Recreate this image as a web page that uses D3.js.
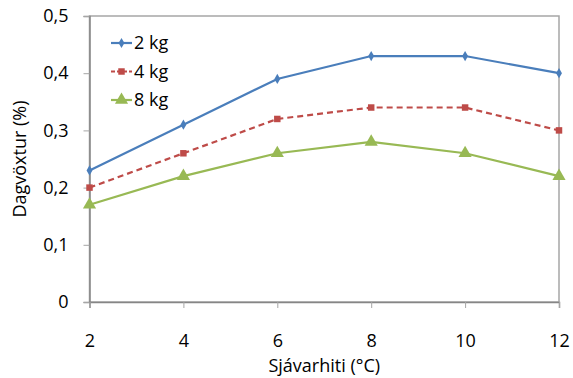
<!DOCTYPE html>
<html>
<head>
<meta charset="utf-8">
<script src="https://cdn.jsdelivr.net/npm/d3@7"></script>
<style>
  html, body { margin: 0; padding: 0; background: #fff; overflow: hidden; }
  svg { display: block; }
  text { font-family: "Open Sans", "Liberation Sans", sans-serif; fill: #000; }
</style>
</head>
<body>
<svg width="573" height="378"></svg>
<script>
const temps = [2, 4, 6, 8, 10, 12];
const kg2 = [0.23, 0.31, 0.39, 0.43, 0.43, 0.40];
const kg4 = [0.20, 0.26, 0.32, 0.34, 0.34, 0.30];
const kg8 = [0.17, 0.22, 0.26, 0.28, 0.26, 0.22];
const seriesNames = ['2 kg', '4 kg', '8 kg'];
const yTicks = [0, 0.1, 0.2, 0.3, 0.4, 0.5];
const xLabel = 'Sjávarhiti (°C)';
const yLabel = 'Dagvöxtur (%)';

const margin = { left: 89.5, right: 14, top: 16, bottom: 76 };
const fontSize = 18;
const svg = d3.select('svg');
const width = +svg.attr('width');
const height = +svg.attr('height');
const innerWidth = width - margin.left - margin.right;
const innerHeight = height - margin.top - margin.bottom;

const g = svg.append('g')
  .attr('transform', `translate(${margin.left},${margin.top})`);

const xScale = d3.scaleLinear().domain([2, 12]).range([0, innerWidth]);
const yScale = d3.scaleLinear().domain([0, 0.5]).range([innerHeight, 0]);

const fmt = d => d === 0 ? '0' : d3.format('.1f')(d).replace('.', ',');

// plot frame
g.append('rect')
  .attr('width', innerWidth)
  .attr('height', innerHeight)
  .attr('fill', 'none')
  .attr('stroke', '#a6a6a6')
  .attr('stroke-width', 1.5);

const yAxis = d3.axisLeft(yScale)
  .tickValues(yTicks)
  .tickFormat(fmt)
  .tickSize(6)
  .tickPadding(15);
const yAxisG = g.append('g').call(yAxis);

const xAxis = d3.axisBottom(xScale)
  .tickValues(temps)
  .tickSize(6)
  .tickPadding(26);
const xAxisG = g.append('g')
  .attr('transform', `translate(0,${innerHeight})`)
  .call(xAxis);

[yAxisG, xAxisG].forEach(a => {
  a.attr('font-size', fontSize).attr('font-family', null);
  a.select('.domain').attr('stroke', '#868686').attr('stroke-width', 1.5);
  a.selectAll('.tick line').attr('stroke', '#a6a6a6');
  a.selectAll('.tick text').attr('fill', '#000');
});

g.append('text')
  .attr('x', innerWidth / 2)
  .attr('y', innerHeight + 70)
  .attr('text-anchor', 'middle')
  .attr('font-size', fontSize)
  .text(xLabel);

g.append('text')
  .attr('transform', `translate(${-63.5},${innerHeight / 2}) rotate(-90)`)
  .attr('text-anchor', 'middle')
  .attr('font-size', fontSize)
  .text(yLabel);

const series = [
  { name: seriesNames[0], values: kg2, color: '#4a7ebb', dash: null, marker: d3.symbolDiamond, size: 30 },
  { name: seriesNames[1], values: kg4, color: '#be4b48', dash: '6,4', marker: d3.symbolSquare, size: 42 },
  { name: seriesNames[2], values: kg8, color: '#98b954', dash: null, marker: d3.symbolTriangle, size: 75 }
];

const line = d3.line()
  .x((d, i) => xScale(temps[i]))
  .y(d => yScale(d));

series.forEach(s => {
  g.append('path')
    .attr('d', line(s.values))
    .attr('fill', 'none')
    .attr('stroke', s.color)
    .attr('stroke-width', 2.2)
    .attr('stroke-dasharray', s.dash);

  g.selectAll(null)
    .data(s.values)
    .enter().append('path')
    .attr('d', d3.symbol().type(s.marker).size(s.size))
    .attr('transform', (d, i) => `translate(${xScale(temps[i])},${yScale(d)})`)
    .attr('fill', s.color);
});

// legend
const legend = svg.append('g').attr('transform', 'translate(111,43)');
series.forEach((s, i) => {
  const row = legend.append('g').attr('transform', `translate(0,${i * 28.5})`);
  row.append('line')
    .attr('x1', 0).attr('x2', 21)
    .attr('stroke', s.color)
    .attr('stroke-width', 2.2)
    .attr('stroke-dasharray', s.dash ? '4,2' : null);
  row.append('path')
    .attr('d', d3.symbol().type(s.marker).size(s.size))
    .attr('transform', 'translate(10.5,0)')
    .attr('fill', s.color);
  row.append('text')
    .attr('x', 23)
    .attr('dy', '0.35em')
    .attr('font-size', fontSize)
    .text(s.name);
});
</script>
</body>
</html>
